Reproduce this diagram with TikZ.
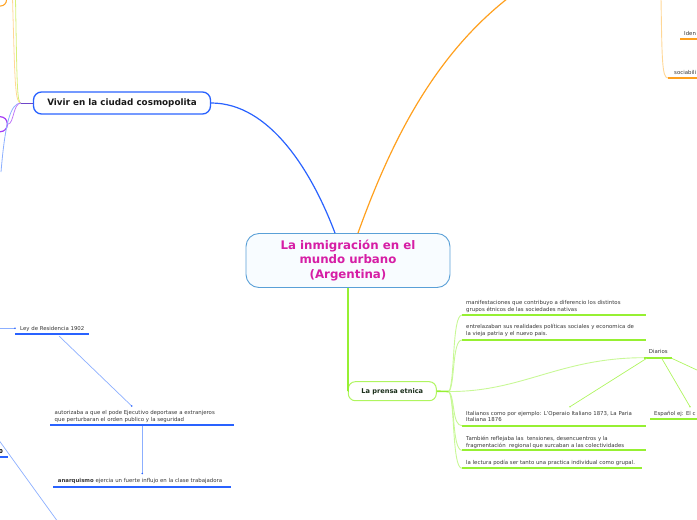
\documentclass[tikz,border=0pt]{standalone}
\usepackage{fontspec}
\setmainfont{DejaVu Sans}
\definecolor{cblue}{RGB}{41,98,255}
\definecolor{lblue}{RGB}{140,175,255}
\definecolor{corange}{RGB}{255,160,30}
\definecolor{lorange}{RGB}{255,215,150}
\definecolor{cgreen}{RGB}{150,240,50}
\definecolor{lgreen}{RGB}{200,248,150}
\definecolor{mgreen}{RGB}{175,245,95}
\definecolor{ygreen}{RGB}{215,240,120}
\definecolor{cpurple}{RGB}{165,60,245}
\definecolor{dpurple}{RGB}{110,70,200}
\definecolor{cmag}{RGB}{214,30,165}
\definecolor{cborder}{RGB}{90,160,215}
\definecolor{cfill}{RGB}{248,252,255}
\definecolor{txtgray}{RGB}{55,55,55}
\definecolor{ptxt}{RGB}{25,45,25}
\tikzset{
  small/.style={font=\fontsize{5.4}{6.6}\selectfont, text=txtgray, inner sep=0pt, align=left},
  uline/.style={line width=2pt},
  thin/.style={line width=0.7pt},
  tip/.style={circle, fill, inner sep=0pt, minimum size=1.8pt}
}
\begin{document}
\begin{tikzpicture}[x=1pt,y=-1pt]
\useasboundingbox (0,0) rectangle (697,520);
\clip (0,0) rectangle (697,520);

% central node
\node[draw=cborder, line width=0.9pt, fill=cfill, rounded corners=13pt,
      minimum width=204pt, minimum height=54pt, inner sep=0pt, align=center,
      font=\fontsize{11.8}{14.3}\selectfont\bfseries, text=cmag] (root) at (348,260.5)
      {La inmigración en el\\mundo urbano\\(Argentina)};

% main branch nodes
\node[draw=cblue, line width=1.3pt, rounded corners=8pt, minimum width=177pt,
      minimum height=22pt, inner sep=0pt, font=\fontsize{8.8}{10}\selectfont\bfseries,
      text=black!90] (vivir) at (122,103) {Vivir en la ciudad cosmopolita};
\node[draw=mgreen, line width=1pt, rounded corners=7pt, minimum width=88pt,
      minimum height=19pt, inner sep=0pt, font=\fontsize{6.6}{8}\selectfont\bfseries,
      text=ptxt] (prensa) at (392.3,391.2) {La prensa etnica};

% partial nodes at the left edge
\node[draw=corange, line width=1pt, rounded corners=6pt, minimum width=40pt, minimum height=30pt] (onode) at (-13.5,-9) {};
\node[draw=cpurple, line width=1.2pt, rounded corners=7pt, minimum width=40pt, minimum height=15pt] (pnode) at (-12.7,124.2) {};

% main connectors
\coordinate (offT) at (512,-5);
\draw[cblue, line width=1.2pt] (vivir.east) .. controls (270,103) and (312,172) .. ([xshift=-13pt]root.north);
\draw[corange, line width=1.2pt] ([xshift=10pt]root.north) .. controls (395,130) and (440,50) .. (offT);
\draw[cgreen, line width=1.5pt] (root.south) |- (prensa.west);

% left side connectors
\coordinate (vj) at (21,103);
\coordinate (offA) at (12.5,-2);
\coordinate (offB) at (15.5,-2);
\coordinate (offC) at (1,172);
\draw[lorange, line width=0.8pt] (offA) .. controls (15,85) and (15,103) .. (vj);
\draw[ygreen, line width=0.8pt] (offB) .. controls (17,85) and (17,103) .. (vj);
\draw[lblue, line width=0.8pt] (vj) .. controls (10,103) and (5,125) .. (offC);
\draw[cpurple!70, line width=0.8pt] (vj) .. controls (13,103) and (14,124) .. (pnode.east);
\draw[dpurple, line width=1pt] (vj) -- (vivir.west);

% prensa branch
\coordinate (fork) at (449,391.5);
\draw[cgreen, line width=1.6pt] (prensa.east) -- (fork);

\node[small, anchor=north west] (t1) at (466,300.4) {manifestaciones que contribuyo a diferencio los distintos\\grupos étnicos de las sociedades nativas};
\coordinate (u1a) at (462,315); \coordinate (u1b) at (646,315);
\node[small, anchor=north west] (t2) at (466,324.4) {entrelazaban sus realidades políticas sociales y economica de\\la vieja patria y el nuevo pais.};
\coordinate (u2a) at (462,340); \coordinate (u2b) at (646,340);
\node[small, anchor=base west] (diarios) at (648.7,353.5) {Diarios};
\coordinate (dA) at (644,357.7); \coordinate (dB) at (672,357.7);
\node[small, anchor=north west] (t3) at (466,410.9) {Italianos como por ejemplo: L'Operaio Italiano 1873, La Paria\\Italiana 1876};
\coordinate (u3a) at (462,425.7); \coordinate (u3b) at (646,425.7);
\node[small, anchor=north west] (t4) at (466,436.4) {También reflejaba las\ \ tensiones, desencuentros y la\\fragmentación\ \ regional que surcaban a las colectividades};
\coordinate (u4a) at (462,450.3); \coordinate (u4b) at (646,450.3);
\node[small, anchor=base west] (t5) at (466,464) {la lectura podía ser tanto una practica individual como grupal.};
\coordinate (u5a) at (462,468.3); \coordinate (u5b) at (642,468.3);
\node[small, anchor=base west] (esp) at (654,415) {Español ej: El c};
\coordinate (ea) at (650,419); \coordinate (eb) at (698,419);

\foreach \a/\b in {u1a/u1b,u2a/u2b,dA/dB,u3a/u3b,u4a/u4b,u5a/u5b,ea/eb}
  \draw[cgreen, uline] (\a) -- (\b);

\draw[lgreen, line width=0.9pt] (fork) .. controls (455,380) and (452,315) .. (u1a);
\draw[lgreen, line width=0.9pt] (fork) .. controls (455,385) and (452,340) .. (u2a);
\draw[lgreen, line width=0.9pt] (fork) .. controls (522,392) and (560,357.7) .. (dA);
\draw[lgreen, line width=0.9pt] (fork) .. controls (455,398) and (452,425.7) .. (u3a);
\draw[lgreen, line width=0.9pt] (fork) .. controls (455,400) and (452,450.3) .. (u4a);
\draw[lgreen, line width=0.9pt] (fork) .. controls (455,402) and (452,468.3) .. (u5a);

% diarios children
\coordinate (d1) at (646.7,358.3); \coordinate (d1e) at (570,406.7);
\coordinate (d2) at (661.7,358.3); \coordinate (d2e) at (690,406.7);
\coordinate (d3) at (671.7,358.3); \coordinate (d3e) at (698,370.5);
\draw[mgreen, thin] (d1) -- (d1e); \node[tip, text=mgreen, fill=mgreen] at (d1e) {};
\draw[mgreen, thin] (d2) -- (d2e); \node[tip, fill=mgreen] at (d2e) {};
\draw[mgreen, thin] (d3) -- (d3e);

% top right
\coordinate (offR) at (661,-2);
\coordinate (s1a) at (668,78); \coordinate (s1b) at (698,78);
\draw[lorange, line width=0.9pt] (offR) .. controls (662,60) and (662,78) .. (s1a);
\draw[corange, uline] (s1a) -- (s1b);
\node[small, anchor=base west] (soc) at (674,74) {sociabili};
\node[small, anchor=base west] (iden) at (684,35.2) {Iden};
\coordinate (i1a) at (680,38.7); \coordinate (i1b) at (698,38.7);
\draw[corange, uline] (i1a) -- (i1b);

% bottom left
\coordinate (offL1) at (-1,328.3);
\node[small, anchor=base west] (ley) at (20,330.5) {Ley de Residencia 1902};
\coordinate (la) at (15,334.3); \coordinate (lb) at (89.3,334.3);
\draw[lblue, line width=0.8pt] (offL1) -- (15,328.3); \node[tip, fill=cblue] at (15,328.3) {};
\draw[cblue, uline] (la) -- (lb);

\node[small, anchor=north west] (aut) at (54.5,410.2) {autorizaba a que el pode Ejecutivo deportase a extranjeros\\que perturbaran el orden publico y la seguridad};
\coordinate (aa) at (50,425); \coordinate (ab) at (234,425);
\draw[cblue, uline] (aa) -- (ab);
\draw[lblue, thin] (59,336) -- (131.7,406); \node[tip, fill=cblue] at (131.7,406) {};

\node[small, anchor=base west] (anar) at (57.7,482.7) {\textbf{anarquismo} ejercia un fuerte influjo en la clase trabajadora};
\coordinate (na) at (53.3,486.7); \coordinate (nb) at (230.7,486.7);
\draw[cblue, uline] (na) -- (nb);
\draw[lblue, thin] (142.3,426) -- (142.3,473.5); \node[tip, fill=cblue] at (142.3,473.5) {};

\node[small, anchor=base east, font=\fontsize{5.4}{6.6}\selectfont\bfseries, text=black] (zero) at (3.2,453.3) {10};
\draw[cblue, uline] (-1,456.7) -- (7.7,456.7);
\coordinate (offL2) at (-1,440.3); \coordinate (offL3) at (57.3,521);
\draw[lblue, thin] (offL2) -- (offL3);
\end{tikzpicture}
\end{document}
